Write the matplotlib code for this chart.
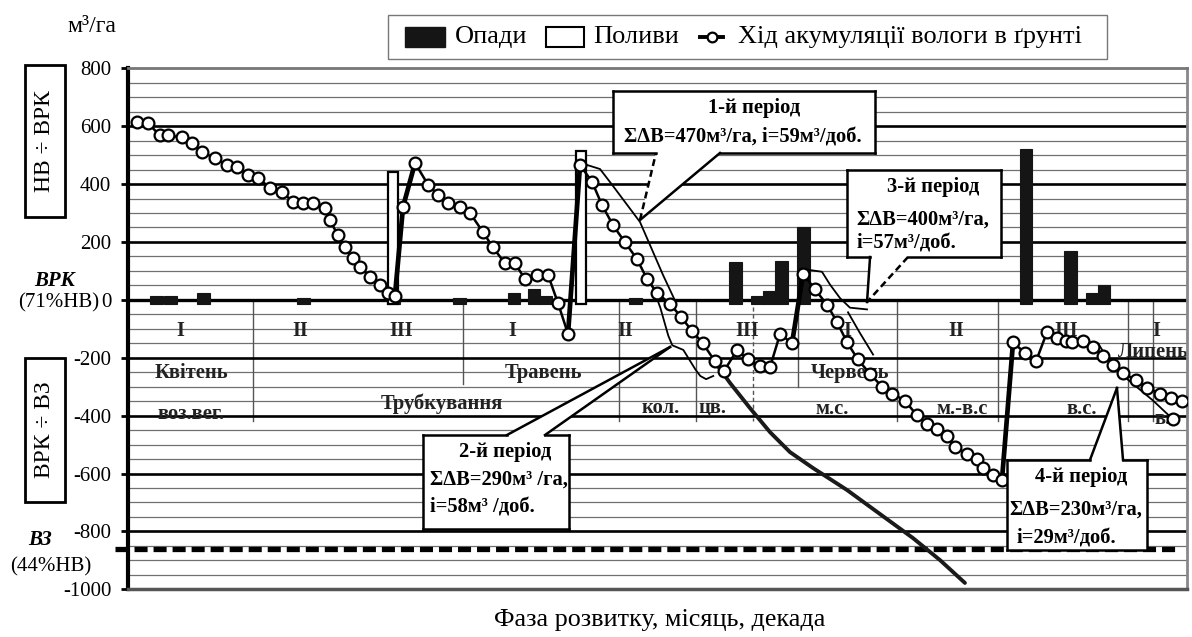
import numpy as np
import matplotlib
matplotlib.use('Agg')
import matplotlib.pyplot as plt
from matplotlib.patches import Rectangle, Polygon
from matplotlib.lines import Line2D

plt.rcParams['font.family'] = ['Liberation Serif', 'DejaVu Serif']
plt.rcParams['axes.unicode_minus'] = False
plt.rcParams['lines.scale_dashes'] = False

# ---------------- data (x = day from 1 April, y = m3/ha) ----------------
moist_day = [0.83, 1.85, 2.96, 3.70, 5.0, 5.92, 6.85, 8.05, 9.16, 10.09,
             11.1, 12.03, 13.14, 14.25, 15.27, 16.2, 17.12, 18.23, 18.69, 19.43,
             20.08, 20.82, 21.47, 22.4, 23.3, 24.06, 24.7, 25.45, 26.56, 27.76,
             28.69, 29.61, 30.72, 31.65, 32.85, 33.78, 34.89, 35.81, 36.74, 37.85,
             38.87, 39.79, 40.72, 41.83, 42.94, 43.86, 44.88, 45.99, 47.1, 48.03,
             48.96, 50.16, 51.18, 52.2, 53.2, 54.3, 55.15, 56.36, 57.38, 58.49,
             59.41, 60.34, 61.45, 62.47, 63.58, 64.69, 65.61, 66.54, 67.55, 68.67,
             69.78, 70.7, 71.9, 73.0, 73.94, 74.87, 75.79, 76.53, 77.64, 78.57,
             79.12, 80.05, 80.88, 81.9, 83.0, 84.03, 85.05, 85.97, 86.8, 87.36,
             88.37, 89.3, 90.23, 91.15, 92.08, 93.28, 94.3, 95.5, 96.52, 97.54]
moist_val = [613, 610, 568, 568, 561, 541, 510, 490, 466, 459,
             432, 421, 387, 373, 338, 335, 335, 317, 275, 223,
             181, 144, 115, 79, 53, 24, 13, 321, 473, 398,
             363, 335, 321, 300, 234, 181, 126, 126, 72, 86,
             86, -11, -118, 466, 408, 328, 258, 199, 141, 72,
             24, -14, -59, -108, -150, -212, -246, -174, -206, -229,
             -233, -118, -150, 90, 36, -17, -76, -147, -206, -256,
             -300, -324, -348, -399, -428, -447, -472, -508, -531, -549,
             -582, -604, -621, -147, -183, -212, -111, -131, -141, -147,
             -141, -164, -193, -226, -253, -277, -304, -324, -338, -348]
# segments where moisture jumps after irrigation / heavy rain (index ranges)
jump_ranges = [(26, 28), (42, 43), (62, 63), (82, 83)]

# projected decline without water input
dry_day = [54.32, 55.71, 57.56, 59.41, 61.26, 63.39, 66.54, 69.59, 72.64, 75.14, 77.45]
dry_val = [-215, -287, -374, -457, -526, -581, -657, -740, -823, -899, -978]

# period envelope curves
env1_day = [42.48, 43.68, 44.79, 47.38, 49.51, 50.6]
env1_val = [466, 452, 398, 269, 86, -1]
env2_day = [48.5, 49.26, 50.0, 50.37, 51.39, 52.5, 52.96, 53.5, 54.16]
env2_val = [50, -27, -124, -157, -173, -240, -263, -274, -263]
env3a_day = [62.93, 64.22, 64.96, 65.89, 66.81, 68.39]
env3a_val = [104, 97, 53, 6, -27, -33]
env3b_day = [66.63, 67.74, 68.95]
env3b_val = [-43, -115, -189]
env4_day = [87.64, 89.77, 91.15, 94.86, 96.71]
env4_val = [-150, -150, -233, -348, -413]

# precipitation (Опади) and irrigation (Поливи)
rain_day = [2.64, 3.89, 6.99, 16.24, 24.57, 30.72, 35.72, 37.57, 38.68, 47.0,
            56.26, 58.25, 59.32, 60.48, 62.51, 83.1, 87.22, 89.21, 90.32]
rain_val = [12, 12, 24, 8, 8, 8, 24, 38, 15, 8,
            130, 14, 32, 135, 250, 520, 170, 24, 53]
irr_day = [24.52, 41.92]
irr_val = [440, 515]

# table of phases / months / decades
sep_day = [11.57, 31.0, 45.44, 52.56, 57.84, 62.0, 71.16, 80.51, 92.54, 94.85]
sep_bot = [-420, -290, -420, -420, -420, -300, -420, -420, -420, -420]
decade_labels = ['I', 'II', 'III', 'I', 'II', 'III', 'I', 'II', 'III', 'I']
decade_day = [4.8, 15.9, 25.3, 35.6, 46.0, 57.3, 66.6, 76.6, 86.8, 95.2]
month_labels = ['Квітень', 'Травень', 'Червень', 'Липень']
month_day = [5.9, 38.4, 66.8, 94.85]
month_y = [-253, -253, -253, -180]
phase_labels = ['воз.вег.', 'Трубкування', 'кол.', 'цв.', 'м.с.', 'м.-в.с', 'в.с.', 'в.с']
phase_day = [5.8, 29.0, 49.3, 54.1, 65.2, 77.2, 88.3, 96.2]
phase_y = [-395, -360, -372, -372, -377, -377, -377, -410]

VZ_level = -860

# ---------------- figure ----------------
W, H = 1192, 637
fig = plt.figure(figsize=(W / 100, H / 100), dpi=100)
ax = fig.add_axes([128 / W, 1 - 589.3 / H, (1187 - 128) / W, (589.3 - 68.3) / H])
ax.set_xlim(0, 98)
ax.set_ylim(-1000, 800)

# grid
for v in range(-950, 800, 50):
    if v % 200 == 0:
        ax.axhline(v, color='black', lw=2.4 if v == 0 else 1.9, zorder=1)
    else:
        ax.axhline(v, color='#707070', lw=0.9, zorder=0.5)

# table separators
for d, b in zip(sep_day, sep_bot):
    ls = (0, (3, 2)) if abs(d - 57.84) < 0.01 else '-'
    ax.plot([d, d], [0, b], color='#555555', lw=1.0, ls=ls, zorder=0.8)

tkw = dict(fontsize=14.8, fontweight='bold', ha='center', va='center', color='#222222', zorder=1.5)
for lab, d in zip(decade_labels, decade_day):
    ax.text(d, -108, lab, **tkw)
for lab, d, y in zip(month_labels, month_day, month_y):
    ax.text(d, y, lab, **tkw)
for lab, d, y in zip(phase_labels, phase_day, phase_y):
    ax.text(d, y, lab, **tkw)

# VZ dashed line
ax.plot([-1.2, 97.35], [VZ_level, VZ_level], color='black', lw=3.8,
        ls=(0, (9.4, 4.3)), clip_on=False, zorder=3)

# bars
ax.bar(rain_day, np.array(rain_val) + 15, bottom=-15, width=1.2, color='#151515',
       edgecolor='#151515', lw=0.8, zorder=2)
ax.bar(irr_day, np.array(irr_val) + 15, bottom=-15, width=1.0, color='white',
       edgecolor='black', lw=1.6, zorder=2.2)

# projected decline and envelopes
ax.plot(dry_day, dry_val, color='#1a1a1a', lw=2.8, zorder=3.5, solid_capstyle='round')
for dd, vv in [(env1_day, env1_val), (env2_day, env2_val), (env3a_day, env3a_val),
               (env3b_day, env3b_val), (env4_day, env4_val)]:
    ax.plot(dd, vv, color='black', lw=1.3, zorder=3.6)
ax.plot(env4_day[-1:], env4_val[-1:], 'o', ms=8.5, mfc='white', mec='black', mew=1.6, zorder=5)

# moisture line
for a, b in jump_ranges:
    ax.plot(moist_day[a:b + 1], moist_val[a:b + 1], color='black', lw=3.4, zorder=4.5)
ax.plot(moist_day, moist_val, color='black', lw=1.8, marker='o', ms=8.5,
        mfc='white', mec='black', mew=1.6, zorder=5)


# callouts
def callout(poly, dashed=()):
    ax.add_patch(Polygon(poly, closed=True, facecolor='white', edgecolor='none',
                         zorder=6, clip_on=False))
    n = len(poly)
    for i in range(n):
        p, q = poly[i], poly[(i + 1) % n]
        ax.plot([p[0], q[0]], [p[1], q[1]], color='black', lw=1.8,
                ls=(0, (5, 3)) if i in dashed else '-', zorder=6.1,
                clip_on=False, solid_capstyle='projecting')


ckw = dict(fontsize=14.8, fontweight='bold', va='center', zorder=7)
callout([(44.88, 721.6), (69.13, 721.6), (69.13, 507.4), (54.78, 507.4),
         (47.38, 275.9), (48.86, 507.4), (44.88, 507.4)], dashed=(4,))
ax.text(57.93, 662.8, '1-й період', ha='center', **ckw)
ax.text(56.9, 562.6, 'ΣΔВ=470м³/га, і=59м³/доб.', ha='center', **ckw)

callout([(27.3, -466.9), (35.07, -466.9), (50.16, -162.9), (38.59, -466.9),
         (40.81, -466.9), (40.81, -791.7), (27.3, -791.7)])
ax.text(34.89, -525.6, '2-й період', ha='center', **ckw)
ax.text(27.95, -622.4, 'ΣΔВ=290м³ /га,', ha='left', **ckw)
ax.text(27.95, -715.7, 'і=58м³ /доб.', ha='left', **ckw)

callout([(66.54, 448.6), (80.79, 448.6), (80.79, 148.0), (72.18, 148.0),
         (68.39, -7.5), (68.67, 148.0), (66.54, 148.0)], dashed=(3,))
ax.text(74.5, 390, '3-й період', ha='center', **ckw)
ax.text(67.4, 275.9, 'ΣΔВ=400м³/га,', ha='left', **ckw)
ax.text(67.4, 196.4, 'і=57м³/доб.', ha='left', **ckw)

callout([(81.34, -553.3), (89.02, -553.3), (91.52, -304.6), (92.08, -553.3),
         (94.3, -553.3), (94.3, -864.3), (81.34, -864.3)])
ax.text(88.2, -612, '4-й період', ha='center', **ckw)
ax.text(81.55, -726, 'ΣΔВ=230м³/га,', ha='left', **ckw)
ax.text(82.2, -822.9, 'і=29м³/доб.', ha='left', **ckw)

# axes styling
ax.set_xticks([])
ax.set_yticks(range(-1000, 801, 200))
ax.tick_params(axis='y', which='major', direction='out', length=5, width=2,
               pad=7, labelsize=15, colors='black')
ax.spines['left'].set_linewidth(3)
ax.spines['left'].set_color('black')
ax.spines['top'].set_linewidth(2)
ax.spines['top'].set_color('#777777')
ax.spines['right'].set_linewidth(2)
ax.spines['right'].set_color('#888888')
ax.spines['bottom'].set_linewidth(2.5)
ax.spines['bottom'].set_color('#555555')

# left side annotations
fig.text(92 / W, 1 - 27 / H, 'м³/га', ha='center', va='center', fontsize=17)
fig.add_artist(Rectangle((25 / W, 1 - 217 / H), 40 / W, 152 / H, fill=False,
                         lw=2, ec='black', transform=fig.transFigure))
fig.text(45 / W, 1 - 141 / H, 'НВ ÷ ВРК', rotation=90, ha='center', va='center', fontsize=17)
fig.add_artist(Rectangle((25 / W, 1 - 502 / H), 40 / W, 144 / H, fill=False,
                         lw=2, ec='black', transform=fig.transFigure))
fig.text(45 / W, 1 - 430 / H, 'ВРК ÷ ВЗ', rotation=90, ha='center', va='center', fontsize=17)
fig.text(55 / W, 1 - 281 / H, 'ВРК', ha='center', va='center', fontsize=15,
         fontweight='bold', style='italic')
fig.text(99 / W, 1 - 303 / H, '(71%НВ)', ha='right', va='center', fontsize=15)
fig.text(40 / W, 1 - 540 / H, 'ВЗ', ha='center', va='center', fontsize=15,
         fontweight='bold', style='italic')
fig.text(51 / W, 1 - 567 / H, '(44%НВ)', ha='center', va='center', fontsize=15)

# x label
fig.text(660 / W, 1 - 620 / H, 'Фаза розвитку, місяць, декада', ha='center',
         va='center', fontsize=18.8)

# legend (manual)
fig.add_artist(Rectangle((388 / W, 1 - 59 / H), (1107 - 388) / W, 44 / H, fill=True,
                         fc='white', lw=1, ec='#777777', transform=fig.transFigure))
ly = 1 - 37 / H
fig.add_artist(Rectangle((405 / W, 1 - 47 / H), 40 / W, 20 / H, fc='#151515',
                         ec='#151515', transform=fig.transFigure))
fig.text(455 / W, ly, 'Опади', ha='left', va='center', fontsize=19)
fig.add_artist(Rectangle((546 / W, 1 - 47 / H), 38 / W, 20 / H, fc='white',
                         ec='black', lw=1.5, transform=fig.transFigure))
fig.text(593 / W, ly, 'Поливи', ha='left', va='center', fontsize=19)
fig.add_artist(Line2D([700 / W, 723 / W], [ly, ly], color='black', lw=2.8,
                      transform=fig.transFigure))
fig.add_artist(Line2D([711.5 / W], [ly], marker='o', ms=7, mfc='white', mec='black',
                      mew=1.6, transform=fig.transFigure))
fig.text(738 / W, ly, 'Хід акумуляції вологи в ґрунті', ha='left', va='center', fontsize=19)

fig.savefig('out.png', dpi=100)
